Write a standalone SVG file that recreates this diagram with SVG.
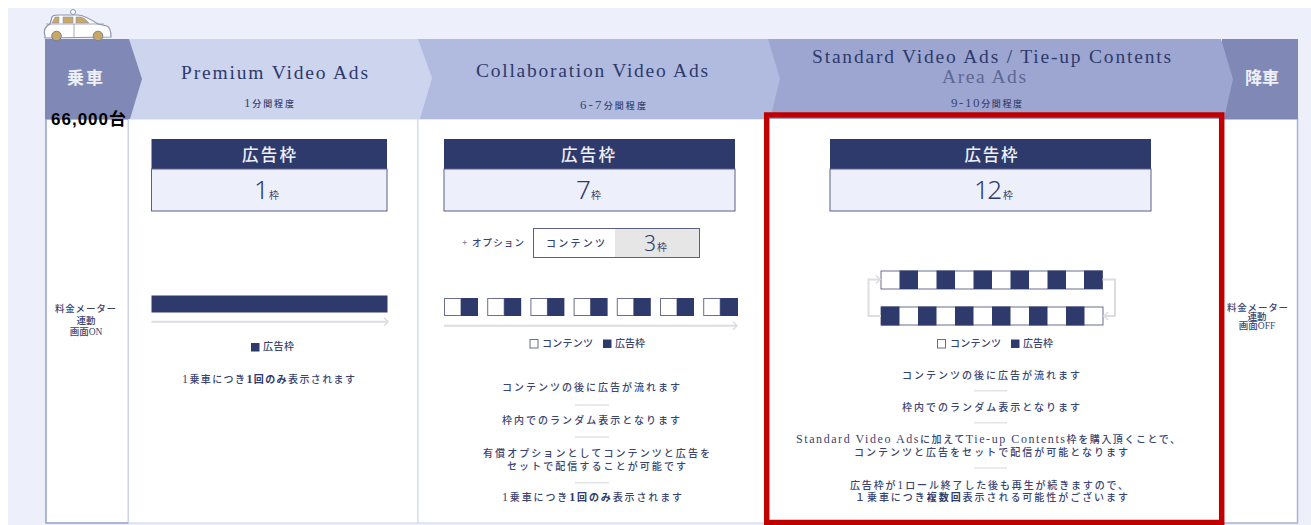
<svg xmlns="http://www.w3.org/2000/svg" width="1311" height="525" viewBox="0 0 1311 525">
<defs>
<marker id="chev" markerUnits="userSpaceOnUse" markerWidth="8" markerHeight="10" refX="6" refY="5" orient="auto"><path d="M2,1 L6,5 L2,9" fill="none" stroke="#dcdde2" stroke-width="1.6"/></marker>
</defs>
<style>
text{font-family:"Liberation Serif","Noto Sans CJK JP",serif;fill:#3a4470}
.jp{font-family:"Liberation Serif","Noto Sans CJK JP",sans-serif;font-size:10px;font-weight:500}
.c{text-anchor:middle}
.title{font-size:19.500px;fill:#2e3a6b;font-weight:500}
.hd{font-size:16.500px;fill:#eef0f8;font-weight:500;font-family:"Noto Sans CJK JP",sans-serif;text-anchor:middle}
.sub{font-size:9px;font-weight:500;fill:#3a4470}
.num{font-size:28px;fill:#2e3a6b;font-family:"Noto Sans","Liberation Sans",sans-serif;font-weight:300}
.waku{font-size:10px;fill:#3a4470;font-family:"Noto Sans CJK JP",sans-serif}
.lat{font-size:12px}
.navy{fill:#2e3a6b}
.wh{fill:#fff;stroke:#6a6f92;stroke-width:1}
.body{fill:#edf0fa;stroke:#5a5f86;stroke-width:1}
.div{stroke:#e3e4e8;stroke-width:1.5}
.conn{fill:none;stroke:#dcdde2;stroke-width:2}
.b{font-weight:700;fill:#2e3a6b}
</style>
<rect x="8" y="8" width="1303" height="517" fill="#edf0fa"/>
<g id="columns">
<rect x="46" y="119" width="82.500" height="404" fill="#fff" stroke="#959ec9" stroke-width="1.500"/>
<rect x="128.500" y="119" width="289.500" height="404" fill="#fff" stroke="#cdd4ee" stroke-width="1"/>
<rect x="418" y="119" width="348" height="404" fill="#fff" stroke="#cdd4ee" stroke-width="1"/>
<rect x="766" y="119" width="456" height="404" fill="#fff"/>
<rect x="1222" y="119" width="75.500" height="404" fill="#fff" stroke="#aab1d4" stroke-width="1.500"/>
</g>
<g id="header">
<rect x="1222" y="39" width="76" height="80" fill="#8089b5"/>
<polygon points="768,39 1221,39 1233,79 1224,119 769,119" fill="#9da6d1"/>
<polygon points="418,39 768,39 780,79 770,119 418,119" fill="#b1bbdf"/>
<polygon points="129,39 418,39 432,78 420,119 130,119" fill="#cdd4ee"/>
<polygon points="45,39 129,39 142,79 130,119 45,119" fill="#8089b5"/>
<text class="hd" x="85" y="84" style="font-size:17px;font-weight:700" textLength="36">乗車</text>
<text class="hd" x="1262" y="84" style="font-size:17px;font-weight:700" textLength="34">降車</text>
<text class="title" x="181" y="78.500" textLength="187">Premium Video Ads</text>
<text class="sub" x="244" y="107" textLength="50"><tspan style="font-size:13px">1</tspan>分間程度</text>
<text class="title" x="476" y="76.500" textLength="232">Collaboration Video Ads</text>
<text class="sub" x="580" y="108.500" textLength="66"><tspan style="font-size:13px">6-7</tspan>分間程度</text>
<text class="title" x="812" y="63" textLength="359">Standard Video Ads / Tie-up Contents</text>
<text class="title" x="942" y="83" textLength="84" style="fill:#5d6893">Area Ads</text>
<text class="sub" x="951" y="107" textLength="71"><tspan style="font-size:13px">9-10</tspan>分間程度</text>
</g>
<g id="car">
<path d="M45,36 Q43,30 47,26 L50,24 L52,17 Q53,15 58,15 L78,15 Q84,15 98,24 L107,26 Q111,28 111,37 L45,38Z" fill="#fff" stroke="#8d92b2" stroke-width="1.200"/>
<circle cx="73" cy="12" r="2.500" fill="#fff" stroke="#8d92b2"/>
<path d="M52,23 L55,17 L59,17 L59,23Z M63,17 L73,17 L73,23 L63,23Z M76,17 L81,17 Q85,18 89,23 L76,23Z" fill="#c9a866" stroke="#8d92b2" stroke-width=".6"/>
<path d="M74,24 V37 M46,24 H104" fill="none" stroke="#8d92b2" stroke-width=".8"/>
<circle cx="56.500" cy="36" r="4.800" fill="#c9a866" stroke="#7b7f99"/>
<circle cx="98" cy="36" r="4.800" fill="#c9a866" stroke="#7b7f99"/>
</g>
<text id="count" x="51" y="125" style="font-family:'Liberation Sans','Noto Sans CJK JP',sans-serif;font-weight:700;font-size:17px;fill:#000" textLength="75">66,000台</text>
<g id="meter-on">
<text class="jp" x="55" y="312" textLength="61" style="font-size:9.500px">料金メーター</text>
<text class="jp c" x="86" y="324" style="font-size:9.500px">連動</text>
<text class="jp c" x="86" y="335" style="font-size:9.500px">画面ON</text>
</g>
<g id="meter-off">
<text class="jp" x="1227" y="311" textLength="61" style="font-size:9.500px">料金メーター</text>
<text class="jp c" x="1257" y="320" style="font-size:9.500px">連動</text>
<text class="jp c" x="1257" y="329" style="font-size:9.500px">画面OFF</text>
</g>
<g id="premium">
<rect class="navy" x="151.500" y="139" width="235.500" height="30"/>
<rect class="body" x="151.500" y="169" width="235.500" height="42"/>
<text class="hd" x="269" y="161" textLength="54">広告枠</text>
<text class="num" x="254" y="199" style="font-size:26px">1</text><text class="waku" x="269" y="198.500">枠</text>
<rect class="navy" x="151.500" y="295.500" width="236" height="17"/>
<rect class="navy" x="251" y="343" width="8.500" height="8.500"/>
<text class="jp" x="263" y="349.500" textLength="31">広告枠</text>
<text class="jp" x="182" y="383" textLength="173"><tspan class="lat">1</tspan>乗車につき<tspan class="b lat">1</tspan><tspan class="b">回のみ</tspan>表示されます</text>
</g>
<g id="collaboration">
<rect class="navy" x="444" y="139" width="291" height="30"/>
<rect class="body" x="444" y="169" width="291" height="42"/>
<text class="hd" x="588" y="161" textLength="54">広告枠</text>
<text class="num" x="576" y="199" style="font-size:26px">7</text><text class="waku" x="591" y="198.500">枠</text>
<text class="jp" x="462" y="246" textLength="62" style="font-size:9.500px">+ オプション</text>
<rect x="533.500" y="228.500" width="166" height="29" fill="#fff" stroke="#5a5f86"/>
<rect x="615" y="229" width="84" height="28" fill="#e6e6e6"/>
<text class="jp" x="546" y="246.500" textLength="59">コンテンツ</text>
<text class="num" x="644" y="250.500" style="font-size:21px">3</text><text class="waku" x="657" y="250.500">枠</text>
<g id="collab-blocks">
<rect class="wh" x="444.500" y="298.500" width="16.500" height="17"/><rect class="navy" x="461" y="298" width="17" height="18"/>
<rect class="wh" x="487.700" y="298.500" width="16.500" height="17"/><rect class="navy" x="504.200" y="298" width="17" height="18"/>
<rect class="wh" x="530.900" y="298.500" width="16.500" height="17"/><rect class="navy" x="547.400" y="298" width="17" height="18"/>
<rect class="wh" x="574.100" y="298.500" width="16.500" height="17"/><rect class="navy" x="590.600" y="298" width="17" height="18"/>
<rect class="wh" x="617.300" y="298.500" width="16.500" height="17"/><rect class="navy" x="633.800" y="298" width="17" height="18"/>
<rect class="wh" x="660.500" y="298.500" width="16.500" height="17"/><rect class="navy" x="677" y="298" width="17" height="18"/>
<rect class="wh" x="703.700" y="298.500" width="16.500" height="17"/><rect class="navy" x="720.200" y="298" width="17.800" height="18"/>
</g>
<rect class="wh" x="530" y="339.500" width="8" height="8.500"/>
<text class="jp" x="542" y="347" textLength="51">コンテンツ</text>
<rect class="navy" x="603" y="339.500" width="8.500" height="8.500"/>
<text class="jp" x="615" y="347" textLength="30">広告枠</text>
<text class="jp" x="502" y="391" textLength="178">コンテンツの後に広告が流れます</text>
<line class="div" x1="575" y1="405" x2="609" y2="405"/>
<text class="jp" x="502" y="423.500" textLength="178">枠内でのランダム表示となります</text>
<line class="div" x1="575" y1="437" x2="609" y2="437"/>
<text class="jp" x="483" y="456.500" textLength="227">有償オプションとしてコンテンツと広告を</text>
<text class="jp" x="507" y="469.500" textLength="179">セットで配信することが可能です</text>
<line class="div" x1="575" y1="482.700" x2="609" y2="482.700"/>
<text class="jp" x="502" y="500.500" textLength="180"><tspan class="lat">1</tspan>乗車につき<tspan class="b lat">1</tspan><tspan class="b">回のみ</tspan>表示されます</text>
</g>
<g id="standard">
<rect class="navy" x="830" y="139" width="321" height="30"/>
<rect class="body" x="830" y="169" width="321" height="42"/>
<text class="hd" x="991" y="161" textLength="53">広告枠</text>
<text class="num" x="974" y="199" style="font-size:26px" textLength="28">12</text><text class="waku" x="1003" y="198.500">枠</text>
<g id="stripes">
<rect class="wh" x="881" y="271" width="221.500" height="18"/>
<rect class="navy" x="899.500" y="270.500" width="18.500" height="18.500"/><rect class="navy" x="936.500" y="270.500" width="18.500" height="18.500"/><rect class="navy" x="973.500" y="270.500" width="18.500" height="18.500"/><rect class="navy" x="1010.500" y="270.500" width="18.500" height="18.500"/><rect class="navy" x="1047.500" y="270.500" width="18.500" height="18.500"/><rect class="navy" x="1084" y="270.500" width="18.500" height="18.500"/>
<rect class="wh" x="881" y="307" width="222" height="18"/>
<rect class="navy" x="881" y="306.500" width="18.500" height="19"/><rect class="navy" x="918" y="306.500" width="18.500" height="19"/><rect class="navy" x="955" y="306.500" width="18.500" height="19"/><rect class="navy" x="992" y="306.500" width="18.500" height="19"/><rect class="navy" x="1029" y="306.500" width="18.500" height="19"/><rect class="navy" x="1066" y="306.500" width="18.500" height="19"/>
</g>
<rect class="wh" x="937.500" y="339.500" width="8" height="8.500"/>
<text class="jp" x="950" y="346.500" textLength="51">コンテンツ</text>
<rect class="navy" x="1011" y="339.500" width="8.500" height="8.500"/>
<text class="jp" x="1023" y="346.500" textLength="30">広告枠</text>
<text class="jp" x="902" y="378.500" textLength="178">コンテンツの後に広告が流れます</text>
<line class="div" x1="974" y1="390.700" x2="1007" y2="390.700"/>
<text class="jp" x="902" y="410.500" textLength="178">枠内でのランダム表示となります</text>
<line class="div" x1="974" y1="422.700" x2="1007" y2="422.700"/>
<text class="jp" x="796" y="442.500" textLength="384"><tspan class="lat">Standard Video Ads</tspan>に加えて<tspan class="lat">Tie-up Contents</tspan>枠を購入頂くことで、</text>
<text class="jp" x="854" y="455.500" textLength="274">コンテンツと広告をセットで配信が可能となります</text>
<line class="div" x1="974" y1="468" x2="1007" y2="468"/>
<text class="jp" x="850" y="488.500" textLength="278">広告枠が<tspan class="lat">1</tspan>ロール終了した後も再生が続きますので、</text>
<text class="jp" x="855" y="500.500" textLength="273">１乗車につき<tspan class="b">複数回</tspan>表示される可能性がございます</text>
</g>
<g id="connectors">
<line class="conn" x1="151.500" y1="321.700" x2="388" y2="321.700" marker-end="url(#chev)"/>
<line class="conn" x1="444" y1="325.700" x2="737" y2="325.700" marker-end="url(#chev)"/>
<path class="conn" d="M881,316 H868.500 V279.500 H880" marker-end="url(#chev)"/>
<path class="conn" d="M1102.500,279.500 H1115 V316 H1104" marker-end="url(#chev)"/>
</g>
<rect id="highlight" x="766.700" y="115" width="455" height="407.500" fill="none" stroke="#c00000" stroke-width="5.500"/>
</svg>
